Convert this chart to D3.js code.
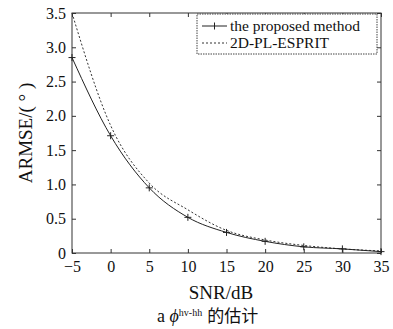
<!DOCTYPE html>
<html>
<head>
<meta charset="utf-8">
<script src="https://cdn.jsdelivr.net/npm/d3@7"></script>
<style>
  body { margin: 0; background: #fff; }
  text { font-family: "Liberation Serif", "Times New Roman", serif; fill: #111; }
</style>
</head>
<body>
<div id="chart"></div>
<script>
// data
var snr = [-5, 0, 5, 10, 15, 20, 25, 30, 35];
var proposed = [2.85, 1.71, 0.95, 0.52, 0.30, 0.17, 0.09, 0.06, 0.02];
var esprit = [3.50, 1.86, 1.02, 0.63, 0.33, 0.19, 0.11, 0.06, 0.03];
var xTicks = [-5, 0, 5, 10, 15, 20, 25, 30, 35];
var yTicks = [0, 0.5, 1.0, 1.5, 2.0, 2.5, 3.0, 3.5];
var legendNames = ["the proposed method", "2D-PL-ESPRIT"];

var W = 393, H = 329;
// plot box (note: "top" is reserved on window, so use p*)
var pLeft = 72, pRight = 381, pTop = 13, pBottom = 253;

var svg = d3.select("#chart").append("svg")
	.attr("width", W)
	.attr("height", H);

var x = d3.scaleLinear().domain([-5, 35]).range([pLeft, pRight]);
var y = d3.scaleLinear().domain([0, 3.5]).range([pBottom, pTop]);

// frame
svg.append("rect")
	.attr("x", pLeft).attr("y", pTop)
	.attr("width", pRight - pLeft).attr("height", pBottom - pTop)
	.style("fill", "none")
	.style("stroke", "#333")
	.style("stroke-width", 1);

// axes with inward ticks
function fmtY(d) { return d === 0 ? "0" : d.toFixed(1); }

svg.append("g")
	.attr("transform", "translate(0," + pBottom + ")")
	.call(d3.axisBottom(x).tickValues(xTicks).tickSizeInner(-4).tickSizeOuter(0).tickPadding(8));
svg.append("g")
	.attr("transform", "translate(0," + pTop + ")")
	.call(d3.axisTop(x).tickValues(xTicks).tickSizeInner(-4).tickSizeOuter(0).tickFormat(""));
svg.append("g")
	.attr("transform", "translate(" + pLeft + ",0)")
	.call(d3.axisLeft(y).tickValues(yTicks).tickSizeInner(-4).tickSizeOuter(0).tickPadding(6).tickFormat(fmtY));
svg.append("g")
	.attr("transform", "translate(" + pRight + ",0)")
	.call(d3.axisRight(y).tickValues(yTicks).tickSizeInner(-4).tickSizeOuter(0).tickFormat(""));

svg.selectAll(".domain").remove();
svg.selectAll(".tick line").style("stroke", "#333");
svg.selectAll(".tick text")
	.style("font-size", "16px")
	.style("font-family", "'Liberation Serif', serif")
	.style("fill", "#111");

// lines
var line = d3.line()
	.x(function(d) { return x(d[0]); })
	.y(function(d) { return y(d[1]); })
	.curve(d3.curveMonotoneX);

var propData = d3.zip(snr, proposed);
var espData = d3.zip(snr, esprit);

svg.append("path")
	.datum(espData)
	.attr("d", line)
	.style("fill", "none")
	.style("stroke", "#333")
	.style("stroke-width", 1)
	.style("stroke-dasharray", "2,2");

svg.append("path")
	.datum(propData)
	.attr("d", line)
	.style("fill", "none")
	.style("stroke", "#222")
	.style("stroke-width", 1);

// plus markers
svg.selectAll(".mark")
	.data(propData)
	.enter().append("path")
	.attr("class", "mark")
	.attr("d", function(d) {
		var cx = x(d[0]), cy = y(d[1]);
		return "M" + (cx - 3.5) + "," + cy + "H" + (cx + 3.5) + "M" + cx + "," + (cy - 3.5) + "V" + (cy + 3.5);
	})
	.style("stroke", "#222")
	.style("stroke-width", 1);

// legend
var lg = svg.append("g");
lg.append("rect")
	.attr("x", 197).attr("y", 14)
	.attr("width", 180).attr("height", 40)
	.style("fill", "#fff")
	.style("stroke", "#444")
	.style("stroke-width", 1)
	.style("stroke-dasharray", "1.5,1");

var rows = [26, 43];
lg.append("line")
	.attr("x1", 202).attr("x2", 227).attr("y1", rows[0]).attr("y2", rows[0])
	.style("stroke", "#222");
lg.append("path")
	.attr("d", "M214.5," + (rows[0] - 3.5) + "V" + (rows[0] + 3.5))
	.style("stroke", "#222");
lg.append("line")
	.attr("x1", 202).attr("x2", 227).attr("y1", rows[1]).attr("y2", rows[1])
	.style("stroke", "#333")
	.style("stroke-dasharray", "2,2");

lg.selectAll(".lgtext")
	.data(legendNames)
	.enter().append("text")
	.attr("class", "lgtext")
	.attr("x", 230)
	.attr("y", function(d, i) { return rows[i] + 5; })
	.style("font-size", "15.5px")
	.text(function(d) { return d; });

// axis titles
svg.append("text")
	.attr("transform", "translate(32," + ((pTop + pBottom) / 2) + ") rotate(-90)")
	.attr("text-anchor", "middle")
	.style("font-size", "19px")
	.text("ARMSE/( ° )");

svg.append("text")
	.attr("x", 221).attr("y", 299)
	.attr("text-anchor", "middle")
	.style("font-size", "19px")
	.text("SNR/dB");

// caption
var cap = svg.append("text")
	.attr("x", 157).attr("y", 322)
	.style("font-size", "18px");
cap.append("tspan").text("a ");
cap.append("tspan").style("font-style", "italic").text("\u03D5");
cap.append("tspan").attr("dy", -6).style("font-size", "10px").text("hv-hh");
cap.append("tspan").attr("dy", 6).attr("dx", 5)
	.style("font-family", "'Noto Sans CJK SC', sans-serif")
	.style("font-size", "17px")
	.text("的估计");
</script>
</body>
</html>
